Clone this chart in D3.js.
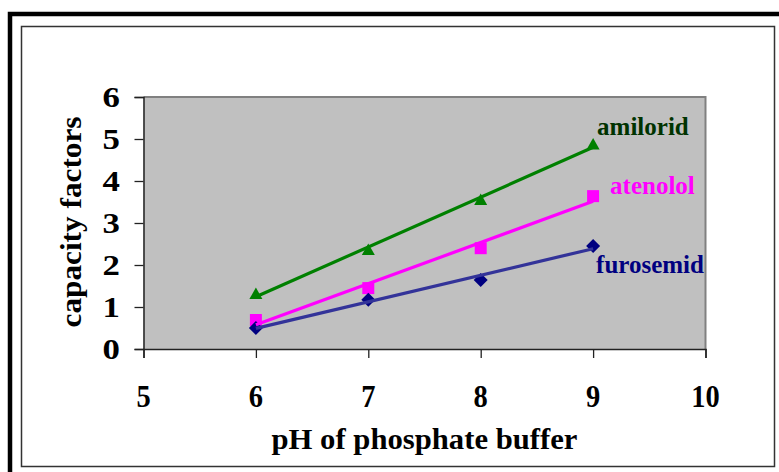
<!DOCTYPE html>
<html>
<head>
<meta charset="utf-8">
<script src="https://cdn.jsdelivr.net/npm/d3@7"></script>
<style>
  body { margin: 0; background: #fff; }
  svg { display: block; }
  text { font-family: "Liberation Serif", "Times New Roman", serif; font-weight: bold; }
</style>
</head>
<body>
<svg id="chart" width="779" height="472"></svg>
<script>
// pH of the phosphate buffer and measured capacity factors per compound
const phValues = [6, 7, 8, 9];
const amilorid = [1.31, 2.36, 3.55, 4.87];
const atenolol = [0.69, 1.45, 2.40, 3.64];
const furosemid = [0.50, 1.17, 1.64, 2.45];

const xTicks = [5, 6, 7, 8, 9, 10];
const yTicks = [0, 1, 2, 3, 4, 5, 6];
const xTitle = "pH of phosphate buffer";
const yTitle = "capacity factors";

const series = [
  { name: "amilorid",  values: amilorid,  marker: "triangle", fill: "#008000", line: "#008000", labelColor: "#003300", dx: 4,  dy: -9 },
  { name: "atenolol",  values: atenolol,  marker: "square",   fill: "#FF00FF", line: "#FF00FF", labelColor: "#FF00FF", dx: 17, dy: -2 },
  { name: "furosemid", values: furosemid, marker: "diamond",  fill: "#000080", line: "#333399", labelColor: "#000080", dx: 3,  dy: 27 }
];

const svg = d3.select("#chart");

// outer heavy frame (runs off the right and bottom edges)
svg.append("rect")
  .attr("x", 10).attr("y", 14).attr("width", 820).attr("height", 520)
  .attr("fill", "none").attr("stroke", "#000").attr("stroke-width", 4.5);

// chart area frame
svg.append("rect")
  .attr("x", 21.5).attr("y", 26.5).attr("width", 753).attr("height", 440)
  .attr("fill", "#fff").attr("stroke", "#333").attr("stroke-width", 1.5);

const plot = { left: 143.5, top: 97, right: 705.5, bottom: 349 };

const x = d3.scaleLinear().domain([5, 10]).range([plot.left, plot.right]);
const y = d3.scaleLinear().domain([0, 6]).range([plot.bottom, plot.top]);

// plot background
svg.append("rect")
  .attr("x", plot.left).attr("y", plot.top)
  .attr("width", plot.right - plot.left).attr("height", plot.bottom - plot.top)
  .attr("fill", "#C0C0C0");
svg.append("path")
  .attr("d", `M${plot.left},${plot.top}H${plot.right}V${plot.bottom}`)
  .attr("fill", "none").attr("stroke", "#808080").attr("stroke-width", 2);

// axes
const yAxis = svg.append("g")
  .attr("transform", `translate(${plot.left},0)`)
  .call(d3.axisLeft(y).tickValues(yTicks).tickSize(9).tickFormat(""));
const xAxis = svg.append("g")
  .attr("transform", `translate(0,${plot.bottom})`)
  .call(d3.axisBottom(x).tickValues(xTicks).tickSize(9).tickFormat(""));
[yAxis, xAxis].forEach(g => {
  g.select(".domain").attr("stroke", "#222").attr("stroke-width", 1.5);
  g.selectAll(".tick line").attr("stroke", "#222").attr("stroke-width", 1.3);
});

// y tick labels
svg.append("g").selectAll("text")
  .data(yTicks).join("text")
  .attr("transform", d => `translate(120,${y(d) + 10}) scale(1.2,1)`)
  .attr("text-anchor", "end")
  .attr("font-size", 29)
  .attr("fill", "#000")
  .text(d => d);

// x tick labels
svg.append("g").selectAll("text")
  .data(xTicks).join("text")
  .attr("transform", d => `translate(${x(d)},407) scale(0.95,1.08)`)
  .attr("text-anchor", "middle")
  .attr("font-size", 30)
  .attr("fill", "#000")
  .text(d => d);

// axis titles
svg.append("text")
  .attr("x", (plot.left + plot.right) / 2).attr("y", 449)
  .attr("text-anchor", "middle")
  .attr("font-size", 30)
  .attr("textLength", 306).attr("lengthAdjust", "spacingAndGlyphs")
  .text(xTitle);

svg.append("text")
  .attr("transform", `translate(81,222) rotate(-90)`)
  .attr("text-anchor", "middle")
  .attr("font-size", 30)
  .attr("textLength", 211).attr("lengthAdjust", "spacingAndGlyphs")
  .text(yTitle);

// marker shapes
const markerPath = {
  triangle: "M0,-6.5L6.5,5L-6.5,5Z",
  square: "M-6,-6H6V6H-6Z",
  diamond: "M0,-7L7,0L0,7L-7,0Z"
};

// least-squares trend line for a series
function trend(vals) {
  const n = phValues.length;
  const mx = d3.mean(phValues), my = d3.mean(vals);
  let sxy = 0, sxx = 0;
  for (let i = 0; i < n; i++) {
    sxy += (phValues[i] - mx) * (vals[i] - my);
    sxx += (phValues[i] - mx) ** 2;
  }
  const slope = sxy / sxx;
  const x0 = d3.min(phValues), x1 = d3.max(phValues);
  return [[x0, my + slope * (x0 - mx)], [x1, my + slope * (x1 - mx)]];
}

const line = d3.line().x(d => x(d[0])).y(d => y(d[1]));

series.forEach(s => {
  const pts = phValues.map((p, i) => [p, s.values[i]]);
  svg.append("g").selectAll("path")
    .data(pts).join("path")
    .attr("transform", d => `translate(${x(d[0])},${y(d[1])})`)
    .attr("d", markerPath[s.marker])
    .attr("fill", s.fill);
});

series.forEach(s => {
  svg.append("path")
    .attr("d", line(trend(s.values)))
    .attr("fill", "none")
    .attr("stroke", s.line)
    .attr("stroke-width", 3.2);
});

// series labels next to the last point
series.forEach(s => {
  const last = s.values.length - 1;
  svg.append("text")
    .attr("x", x(phValues[last]) + s.dx)
    .attr("y", y(s.values[last]) + s.dy)
    .attr("font-size", 25)
    .attr("fill", s.labelColor)
    .text(s.name);
});
</script>
</body>
</html>
